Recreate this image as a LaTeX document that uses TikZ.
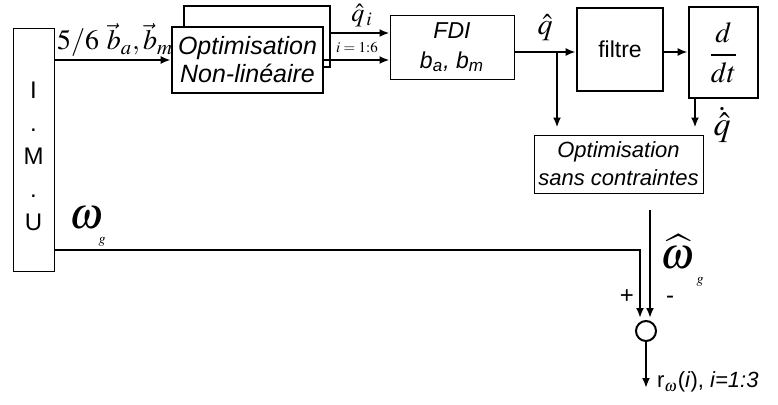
\documentclass[tikz,border=0pt]{standalone}
\usepackage{mathptmx}
\usepackage{fontspec}
\setmainfont{Liberation Sans}
\usetikzlibrary{arrows.meta}

\begin{document}
\begin{tikzpicture}[x=0.5pt,y=-0.5pt,
	thinbox/.style={draw,line width=0.5pt,fill=white,inner sep=0pt},
	thickbox/.style={draw,line width=1.3pt,fill=white,inner sep=0pt},
	fl/.style={line width=1.1pt,-{Latex[length=5pt,width=4pt]}}]

	\useasboundingbox (0,0) rectangle (778,404);

	% Blocs
	\node[thinbox,minimum width=20.5pt,minimum height=121.5pt] (imu) at (33.5,149.5) {};
	\node[align=center,font=\fontsize{12}{16.5}\selectfont] (imutxt) at (33.5,156) {I\\.\\M\\.\\U};

	\node[thickbox,minimum width=73pt,minimum height=30.5pt] (optb) at (257,36.5) {};
	\node[thickbox,minimum width=75.5pt,minimum height=33pt,align=center,
		font=\itshape\fontsize{12.5}{14}\selectfont] (opt) at (247.5,60) {Optimisation\\Non-linéaire};

	\node[thinbox,minimum width=62pt,minimum height=32pt,align=center,
		font=\itshape\fontsize{11.5}{15}\selectfont] (fdi) at (452,47) {FDI\\b\textsubscript{a}, b\textsubscript{m}};

	\node[thickbox,minimum width=43pt,minimum height=41.5pt,
		font=\fontsize{11.5}{14}\selectfont] (filtre) at (620,49.5) {filtre};
	\node[thickbox,minimum width=34.5pt,minimum height=45.5pt,
		font=\fontsize{14.5}{17}\selectfont] (ddt) at (723.5,52.5) {$\displaystyle\frac{d}{dt}$};

	\node[thinbox,minimum width=84.5pt,minimum height=29pt,align=center,
		font=\itshape\fontsize{11}{14}\selectfont] (osc) at (618.5,164) {Optimisation\\sans contraintes};

	\node[draw,circle,line width=1pt,minimum size=10pt,inner sep=0pt] (sum) at (646,331) {};

	% Points
	\coordinate (qb) at (557,52);
	\coordinate (qd) at (695,98);
	\coordinate (wg) at (640,250);
	\coordinate (wh) at (650,210);
	\coordinate (r) at (646,388);

	% Fleches
	\draw[fl] (imu.east |- opt) -- (opt.west);
	\draw[fl] ([yshift=1.75pt]optb.east) -- ([yshift=1.75pt]optb.east -| fdi.west);
	\draw[fl] (opt.east) -- (opt.east -| fdi.west);
	\draw[fl] (fdi.east |- qb) -- (filtre.west |- qb);
	\draw[fl,shorten >=3.5pt] (qb) -- (qb |- osc.north);
	\draw[fl] (filtre.east |- qb) -- (ddt.west |- qb);
	\draw[fl,shorten >=3.5pt] (qd) -- (qd |- osc.north);

	\draw[fl,shorten >=1pt] (imu.east |- wg) -- (wg) -- (wg |- sum.north);
	\draw[fl,shorten >=1pt] (wh) -- (wh |- sum.north);
	\draw[fl] (sum) -- (r);

	% Etiquettes
	\node (lb) at (115,40) {\fontsize{14}{16}\selectfont$5/6\ \vec{b}_a,\vec{b}_m$};
	\node (lq) at (362,16) {\fontsize{13}{15}\selectfont$\hat{q}_{\,i}$};
	\node (li) at (357,47) {\fontsize{7.5}{9}\selectfont$i=1{:}6$};
	\node (lqh) at (545,28) {\fontsize{15}{17}\selectfont$\hat{q}$};
	\node (lqd) at (722,125) {\fontsize{17}{19}\selectfont$\dot{\hat{q}}$};

	\node (lw) at (86,218) {\fontsize{22}{24}\selectfont$\omega$};
	\node (lwg) at (102,242) {\fontsize{7}{8}\selectfont$g$};
	\node (lwh) at (677,252) {\fontsize{22}{24}\selectfont$\widehat{\omega}$};
	\node (lwhg) at (700,282) {\fontsize{7}{8}\selectfont$g$};

	\node (lp) at (627,297) {\fontsize{12}{14}\selectfont +};
	\node (lm) at (670,300) {\fontsize{12}{14}\selectfont -};
	\node[anchor=west,font=\fontsize{11}{13}\selectfont] (lr) at (650,382) {r\textsubscript{$\omega$}(\textit{i}), \textit{i=1:3}};

\end{tikzpicture}
\end{document}
